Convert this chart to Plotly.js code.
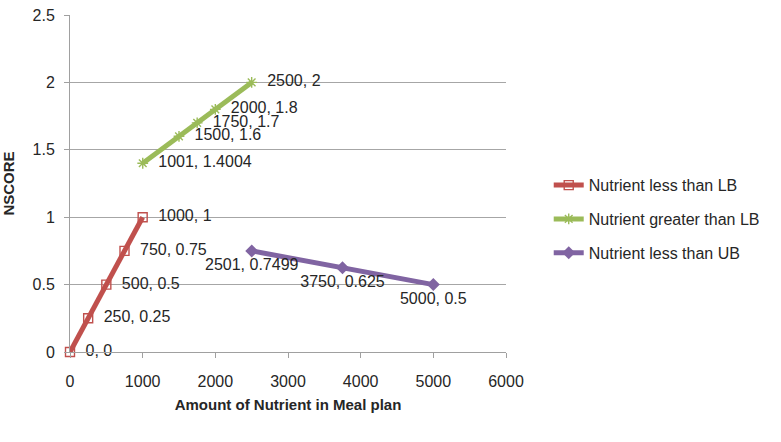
<!DOCTYPE html>
<html><head><meta charset="utf-8">
<script src="https://cdn.plot.ly/plotly-3.0.1.min.js"></script>
<style>body{margin:0;background:#fff}#c{width:781px;height:442px}</style>
</head><body><div id="c"></div>
<script>
const lbX = [0, 250, 500, 750, 1000];
const lbY = [0, 0.25, 0.5, 0.75, 1];
const glbX = [1001, 1500, 1750, 2000, 2500];
const glbY = [1.4004, 1.6, 1.7, 1.8, 2];
const ubX = [2501, 3750, 5000];
const ubY = [0.7499, 0.625, 0.5];
const names = ['Nutrient less than LB', 'Nutrient greater than LB', 'Nutrient less than UB'];
const xTitle = 'Amount of Nutrient in Meal plan';
const yTitle = 'NSCORE';
const fnt = '"Liberation Sans", Arial, sans-serif';
const txtCol = '#262626';
function lbl(xs, ys, pre){ return xs.map((x,i)=>pre + x + ', ' + ys[i]); }
const NB = '\u00A0\u00A0';
const traces = [
 {x: lbX, y: lbY, name: names[0], legendgroup:'a', mode:'lines+markers+text', text: lbl(lbX,lbY,NB), textposition:'middle right',
  cliponaxis:false,
  line:{color:'#C0504D', width:5}, marker:{symbol:'square-open', size:9, color:'#C0504D', line:{width:1.4}},
  textfont:{family:fnt, size:16, color:txtCol}},
 {x: glbX, y: glbY, name: names[1], legendgroup:'b', mode:'lines+markers+text', text: lbl(glbX,glbY,NB), textposition:'middle right',
  cliponaxis:false,
  line:{color:'#9BBB59', width:5}, marker:{symbol:'asterisk-open', size:9, color:'#9BBB59', line:{width:1.4, color:'#9BBB59'}},
  textfont:{family:fnt, size:16, color:txtCol}},
 {x: ubX, y: ubY, name: names[2], legendgroup:'c', mode:'lines+markers+text', text: lbl(ubX,ubY,''), textposition:'bottom center',
  cliponaxis:false,
  line:{color:'#8064A2', width:5}, marker:{symbol:'diamond', size:10, color:'#8064A2'},
  textfont:{family:fnt, size:16, color:txtCol}}
];
const layout = {
 width:781, height:442, margin:{l:70, r:275, t:15, b:89.5},
 paper_bgcolor:'#fff', plot_bgcolor:'#fff',
 font:{family:fnt, size:16, color:txtCol},
 xaxis:{range:[0,6000], dtick:1000, tick0:0, showgrid:false, zeroline:false,
   showline:true, linecolor:'#A0A0A0', linewidth:1, ticks:'outside', ticklen:5, tickcolor:'#A0A0A0',
   ticklabelstandoff:10,
   tickfont:{family:fnt, size:16, color:txtCol},
   title:{text:'<b>' + xTitle + '</b>', font:{family:fnt, size:15, color:txtCol}, standoff:10}},
 yaxis:{range:[0,2.5], dtick:0.5, tick0:0, showgrid:true, gridcolor:'#A6A6A6', zeroline:false,
   showline:true, linecolor:'#A0A0A0', linewidth:1, ticks:'outside', ticklen:5, tickcolor:'#A0A0A0',
   ticklabelstandoff:6,
   tickfont:{family:fnt, size:16, color:txtCol},
   title:{text:'<b>' + yTitle + '</b>', font:{family:fnt, size:15, color:txtCol}, standoff:18}},
 showlegend:true,
 legend:{x:1.098, y:0.394, xanchor:'left', yanchor:'middle', font:{family:fnt, size:16, color:txtCol},
   tracegroupgap:10, traceorder:'grouped'}
};
Plotly.newPlot('c', traces, layout, {displayModeBar:false, staticPlot:true});
</script></body></html>
